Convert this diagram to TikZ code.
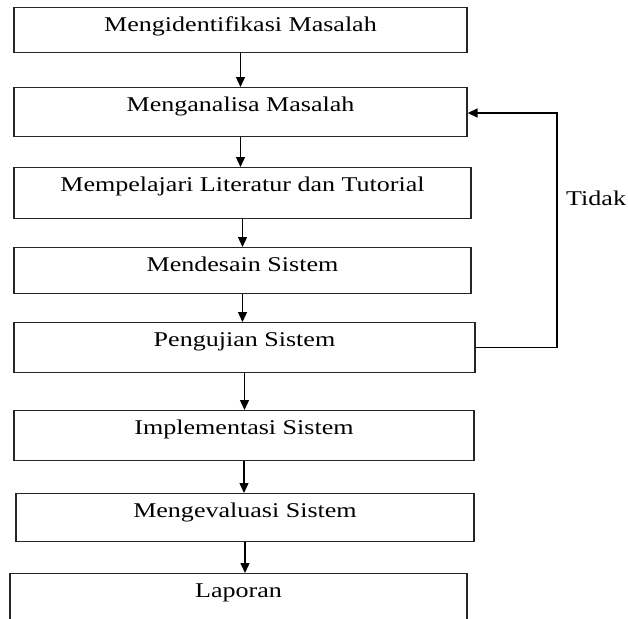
\documentclass[tikz,border=0pt]{standalone}
\usepackage{fontspec}
\setmainfont[FakeStretch=1.24]{Liberation Serif}
\usepackage{tikz}
\usetikzlibrary{arrows.meta}

\begin{document}
\begin{tikzpicture}[x=1pt, y=-1pt,
    stage/.style={draw=black!85, line width=1.3pt, inner sep=0pt, anchor=north,
      text height=23.5pt, font=\fontsize{21pt}{25pt}\selectfont},
    flow/.style={line width=1.4pt, -{Triangle[width=9pt,length=10pt]}}]
    \useasboundingbox (0,0) rectangle (628,618);
    \clip (0,0) rectangle (628,618);
    \node[stage, minimum width=453pt, text depth=21.5pt] (b1) at (240.5,7) {Mengidentifikasi Masalah};
    \node[stage, minimum width=453pt, text depth=25.5pt] (b2) at (240.5,87) {Menganalisa Masalah};
    \node[stage, minimum width=457pt, text depth=27.5pt] (b3) at (242.5,167) {Mempelajari Literatur dan Tutorial};
    \node[stage, minimum width=457pt, text depth=22.5pt] (b4) at (242.5,247) {Mendesain Sistem};
    \node[stage, minimum width=461pt, text depth=26.5pt] (b5) at (244.5,322) {Pengujian Sistem};
    \node[stage, minimum width=460pt, text depth=26.5pt] (b6) at (244,410) {Implementasi Sistem};
    \node[stage, minimum width=458pt, text depth=24.5pt] (b7) at (245,493) {Mengevaluasi Sistem};
    \node[stage, minimum width=457pt, text depth=70pt] (b8) at (238.5,573) {Laporan};
    \foreach \a/\b in {b1/b2,b2/b3,b3/b4,b4/b5,b5/b6,b6/b7,b7/b8}
      \draw[flow] (\a.south) -- (\a.south |- \b.north);
    % kembali ke analisa
    \coordinate (back) at (557,113);
    \draw[flow] (b5.east) -| (back) -- (b2.east |- back);
    \node[anchor=base west, inner sep=0pt, font=\fontsize{21pt}{25pt}\selectfont] (tidak) at (566,205) {Tidak};
  \end{tikzpicture}
\end{document}
